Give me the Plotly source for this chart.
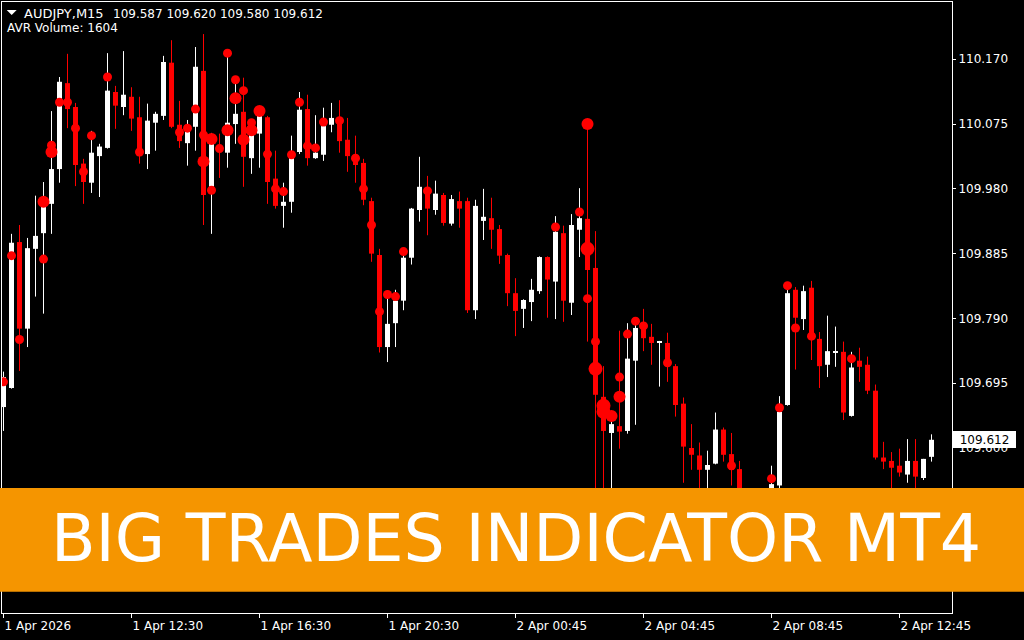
import plotly.graph_objects as go

# ---------------- data (AUDJPY M15) ----------------
opens = [109.660, 109.688, 109.902, 109.775, 109.892, 109.915, 109.958, 110.009, 110.135, 110.100,
         110.017, 109.989, 110.028, 110.040, 110.122, 110.100, 110.115, 110.085, 110.031, 110.077,
         110.087, 110.165, 110.074, 110.047, 110.071, 110.153, 109.983, 110.042, 110.033, 110.075,
         110.093, 110.025, 110.061, 110.085, 109.995, 109.955, 109.961, 110.034, 110.097, 110.025,
         110.030, 110.074, 110.077, 110.052, 110.022, 110.018, 109.962, 109.883, 109.748, 109.783,
         109.816, 109.879, 109.949, 109.977, 109.949, 109.971, 109.929, 109.962, 109.962, 109.802,
         109.933, 109.937, 109.921, 109.883, 109.827, 109.804, 109.814, 109.830, 109.880, 109.844,
         109.915, 109.813, 109.920, 109.936, 109.864, 109.675, 109.622, 109.632, 109.625, 109.728,
         109.783, 109.763, 109.754, 109.754, 109.720, 109.665, 109.600, 109.589, 109.568, 109.577,
         109.627, 109.591, 109.569, 109.524, 109.502, 109.517, 109.517, 109.545, 109.663, 109.832,
         109.789, 109.835, 109.760, 109.722, 109.740, 109.741, 109.647, 109.728, 109.722, 109.684,
         109.586, 109.581, 109.574, 109.561, 109.581, 109.556, 109.587]
highs = [109.712, 109.914, 109.927, 109.908, 109.970, 109.990, 110.094, 110.144, 110.178, 110.106,
         110.024, 110.065, 110.046, 110.179, 110.131, 110.182, 110.129, 110.115, 110.105, 110.093,
         110.175, 110.198, 110.109, 110.081, 110.188, 110.207, 110.062, 110.061, 110.179, 110.140,
         110.143, 110.077, 110.099, 110.087, 110.036, 109.989, 110.058, 110.122, 110.118, 110.088,
         110.099, 110.106, 110.110, 110.084, 110.058, 110.024, 109.967, 109.892, 109.825, 109.832,
         109.891, 109.952, 110.027, 109.999, 109.992, 109.974, 109.971, 109.976, 109.967, 109.964,
         109.980, 109.967, 109.927, 109.885, 109.849, 109.818, 109.848, 109.881, 109.881, 109.940,
         109.926, 109.943, 109.981, 110.078, 109.918, 109.720, 109.653, 109.772, 109.783, 109.792,
         109.804, 109.782, 109.757, 109.769, 109.723, 109.674, 109.635, 109.608, 109.596, 109.652,
         109.630, 109.622, 109.581, 109.531, 109.527, 109.536, 109.574, 109.676, 109.842, 109.836,
         109.838, 109.845, 109.770, 109.794, 109.778, 109.756, 109.741, 109.747, 109.734, 109.693,
         109.609, 109.594, 109.599, 109.613, 109.613, 109.584, 109.620]
lows = [109.625, 109.687, 109.713, 109.748, 109.822, 109.797, 109.914, 109.989, 110.069, 109.984,
        109.958, 109.974, 109.968, 110.039, 110.068, 110.088, 110.065, 110.017, 110.009, 110.036,
        110.081, 110.069, 110.040, 110.014, 110.036, 109.927, 109.914, 109.996, 110.011, 110.046,
        109.983, 110.002, 110.011, 109.958, 109.951, 109.923, 109.945, 110.031, 110.014, 110.024,
        110.021, 110.063, 110.033, 110.005, 109.989, 109.956, 109.873, 109.740, 109.726, 109.748,
        109.802, 109.869, 109.932, 109.912, 109.942, 109.926, 109.926, 109.923, 109.798, 109.789,
        109.905, 109.892, 109.870, 109.808, 109.764, 109.776, 109.786, 109.826, 109.791, 109.789,
        109.785, 109.795, 109.880, 109.756, 109.495, 109.465, 109.495, 109.599, 109.621, 109.634,
        109.742, 109.722, 109.690, 109.697, 109.646, 109.549, 109.568, 109.517, 109.524, 109.576,
        109.580, 109.545, 109.509, 109.487, 109.480, 109.495, 109.502, 109.531, 109.662, 109.715,
        109.773, 109.729, 109.688, 109.704, 109.719, 109.641, 109.646, 109.697, 109.679, 109.583,
        109.569, 109.524, 109.558, 109.549, 109.524, 109.553, 109.580]
closes = [109.704, 109.901, 109.775, 109.893, 109.911, 109.955, 110.009, 110.137, 110.097, 110.015,
          109.990, 110.033, 110.042, 110.124, 110.102, 110.118, 110.083, 110.028, 110.080, 110.090,
          110.166, 110.071, 110.050, 110.069, 110.159, 109.971, 110.058, 110.036, 110.077, 110.090,
          110.027, 110.069, 110.093, 109.990, 109.955, 109.961, 110.030, 110.096, 110.025, 110.033,
          110.072, 110.084, 110.050, 110.028, 110.015, 109.964, 109.885, 109.748, 109.782, 109.816,
          109.879, 109.951, 109.983, 109.951, 109.973, 109.930, 109.965, 109.951, 109.802, 109.955,
          109.939, 109.920, 109.882, 109.827, 109.801, 109.817, 109.832, 109.880, 109.847, 109.917,
          109.816, 109.927, 109.937, 109.861, 109.678, 109.625, 109.635, 109.624, 109.731, 109.776,
          109.761, 109.754, 109.756, 109.723, 109.663, 109.602, 109.590, 109.568, 109.575, 109.627,
          109.590, 109.568, 109.524, 109.502, 109.517, 109.524, 109.547, 109.653, 109.827, 109.791,
          109.830, 109.760, 109.720, 109.742, 109.742, 109.652, 109.718, 109.719, 109.684, 109.586,
          109.580, 109.571, 109.564, 109.581, 109.558, 109.584, 109.612]
bar_index = list(range(len(opens)))

# Big-trade dots: bar, price, volume level (1 = normal, 2 = big, 3 = huge)
dot_bar = [0, 1, 2, 5, 5, 6, 6, 7, 8, 9, 10, 11, 13, 17, 22, 23, 24, 25, 25, 26, 26, 27, 28, 28,
           29, 29, 30, 30, 31, 31, 32, 33, 34, 35, 36, 37, 38, 39, 40, 42, 44, 45, 46, 47, 48, 49,
           50, 53, 69, 72, 73, 73, 73, 74, 74, 75, 75, 76, 77, 77, 78, 79, 80, 83, 91, 96, 97, 98,
           99, 101, 106]
dot_price = [109.697, 109.882, 109.759, 109.961, 109.877, 110.044, 110.034, 110.107, 110.107,
             110.069, 110.005, 110.058, 110.144, 110.034, 110.063, 110.069, 110.097, 110.059,
             110.020, 110.053, 109.978, 110.039, 110.179, 110.066, 110.140, 110.113, 110.124,
             110.052, 110.077, 110.066, 110.094, 110.031, 109.980, 109.976, 110.030, 110.107,
             110.043, 110.040, 110.078, 110.080, 110.025, 109.980, 109.927, 109.800, 109.825,
             109.822, 109.888, 109.977, 109.924, 109.946, 110.075, 109.892, 109.819, 109.756,
             109.716, 109.662, 109.653, 109.647, 109.704, 109.675, 109.767, 109.786, 109.779,
             109.725, 109.574, 109.555, 109.659, 109.838, 109.776, 109.764, 109.731]
dot_level = [1, 1, 1, 2, 1, 1, 2, 1, 1, 1, 1, 1, 1, 1, 1, 1, 1, 1, 2, 2, 1, 1, 1, 2,
             1, 2, 1, 2, 1, 2, 2, 1, 1, 1, 1, 1, 1, 1, 1, 1, 1, 1, 1, 1, 1, 1,
             1, 1, 1, 1, 2, 3, 1, 1, 3, 3, 3, 2, 1, 2, 1, 1, 1, 1, 1, 1, 1, 1,
             1, 1, 1]

x_tick_bars = [0, 16, 32, 48, 64, 80, 96, 112]
x_tick_labels = ["1 Apr 2026", "1 Apr 12:30", "1 Apr 16:30", "1 Apr 20:30",
                 "2 Apr 00:45", "2 Apr 04:45", "2 Apr 08:45", "2 Apr 12:45"]
y_tick_values = [110.170, 110.075, 109.980, 109.885, 109.790, 109.695, 109.600]

symbol = "AUDJPY,M15"
avr_volume = 1604
banner_text = "BIG TRADES INDICATOR MT4"

# ---------------- styling ----------------
BULL = "#FFFFFF"
BEAR = "#FF0000"
ORANGE = "#F59500"
FONT = "DejaVu Sans"
W, H = 1024, 640
ML, MR, MT, MB = 2, 72, 2, 27
PW, PH = W - ML - MR, H - MT - MB


def px(x):
    return (x - ML) / PW


def py(y):
    return (H - MB - y) / PH


fig = go.Figure()

# wicks
for up, color in [(True, BULL), (False, BEAR)]:
    sel = [i for i in bar_index if (closes[i] >= opens[i]) == up]
    wx, wy = [], []
    for i in sel:
        wx += [i, i, None]
        wy += [lows[i], highs[i], None]
    fig.add_trace(go.Scatter(x=wx, y=wy, mode="lines", line=dict(color=color, width=1),
                             hoverinfo="skip", showlegend=False))

# bodies
for up, color in [(True, BULL), (False, BEAR)]:
    sel = [i for i in bar_index if (closes[i] >= opens[i]) == up]
    base = [min(opens[i], closes[i]) for i in sel]
    hgt = [max(abs(closes[i] - opens[i]), 0.0012) for i in sel]
    fig.add_trace(go.Bar(x=sel, y=hgt, base=base, width=0.625,
                         marker=dict(color=color, line=dict(width=0)),
                         hoverinfo="skip", showlegend=False))

# big trade dots
size_map = {1: 9, 2: 12, 3: 14}
fig.add_trace(go.Scatter(x=dot_bar, y=dot_price, mode="markers",
                         marker=dict(color=BEAR, opacity=1,
                                     size=[size_map[l] for l in dot_level],
                                     line=dict(width=0)),
                         hoverinfo="skip", showlegend=False))

fig.update_layout(
    template="none",
    width=W, height=H,
    margin=dict(l=ML, r=MR, t=MT, b=MB, pad=0),
    paper_bgcolor="black", plot_bgcolor="black",
    barmode="overlay", showlegend=False,
    font=dict(family=FONT, size=12, color="white"),
    xaxis=dict(range=[-0.1875, 118.5625], showgrid=False, zeroline=False,
               showline=True, linecolor="white", linewidth=1, mirror=True,
               ticks="outside", ticklen=4, tickcolor="white", tickwidth=1,
               tickvals=x_tick_bars, ticktext=x_tick_labels,
               ticklabelposition="outside right", ticklabelstandoff=2,
               tickfont=dict(family=FONT, size=12, color="white"),
               automargin=False, fixedrange=True),
    yaxis=dict(side="right", range=[109.358, 110.254], showgrid=False, zeroline=False,
               showline=True, linecolor="white", linewidth=1, mirror=True,
               ticks="outside", ticklen=3, tickcolor="white", tickwidth=1,
               tickvals=y_tick_values, ticktext=[f"{v:.3f}" for v in y_tick_values],
               tickfont=dict(family=FONT, size=12, color="white"),
               automargin=False, fixedrange=True),
)

# header triangle
tx0, tx1, ty0, ty1 = px(6.7), px(16.7), py(10), py(15)
fig.add_shape(type="path", xref="paper", yref="paper",
              path=f"M {tx0} {ty0} L {tx1} {ty0} L {(tx0 + tx1) / 2} {ty1} Z",
              fillcolor="white", line=dict(width=0), layer="above")


def text_ann(text, x_px, yc_px, size=12, color="white"):
    fig.add_annotation(text=text, xref="paper", yref="paper", x=px(x_px), y=py(yc_px),
                       xanchor="left", yanchor="middle", showarrow=False,
                       borderpad=0, borderwidth=0,
                       font=dict(family=FONT, size=size, color=color))


text_ann(symbol, 24, 14, size=13)
text_ann(f"{opens[-1]:.3f} {highs[-1]:.3f} {lows[-1]:.3f} {closes[-1]:.3f}", 112.7, 14)
text_ann(f"AVR Volume: {avr_volume}", 7.3, 27.7)

# current price label
fig.add_annotation(text=f"{closes[-1]:.3f}", xref="paper", yref="y", x=1, y=closes[-1],
                   xanchor="left", yanchor="middle", xshift=1, showarrow=False,
                   bgcolor="white", borderpad=1, borderwidth=0, width=61, height=15,
                   align="center", font=dict(family=FONT, size=12, color="black"))

# banner
fig.add_shape(type="rect", xref="paper", yref="paper",
              x0=px(0), x1=px(W), y0=py(591.7), y1=py(488),
              fillcolor=ORANGE, line=dict(width=0), layer="above")
fig.add_annotation(text=banner_text, xref="paper", yref="paper", x=px(516), y=py(538),
                   xanchor="center", yanchor="middle", showarrow=False,
                   font=dict(family=FONT, size=65, color="white"))

fig.write_html("out.html", config={"displayModeBar": False},
               post_script="document.body.style.margin='0';")
